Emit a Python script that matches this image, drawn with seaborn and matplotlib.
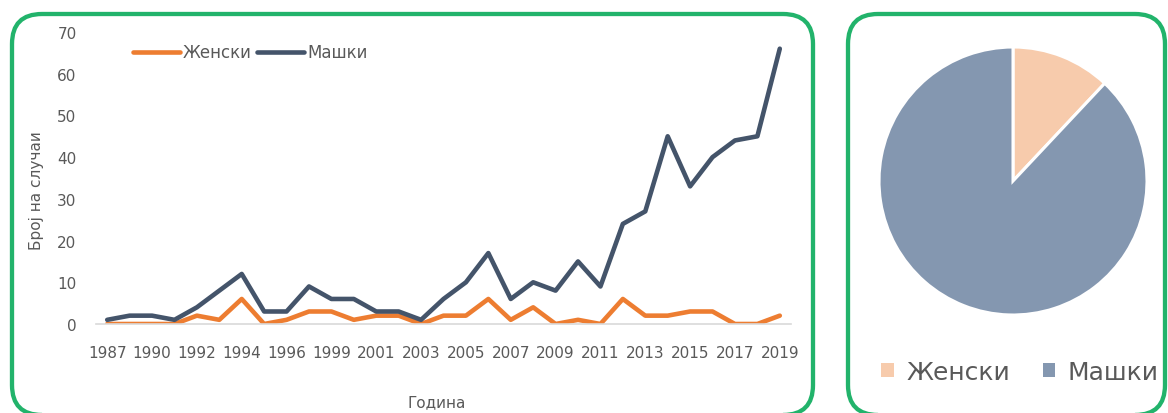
import matplotlib
matplotlib.use("Agg")
import matplotlib.pyplot as plt
import seaborn as sns
import pandas as pd
from matplotlib.patches import FancyBboxPatch, Patch

# ---- data ----
years = ["1987", "1988", "1990", "1991", "1992", "1993", "1994", "1995", "1996", "1997",
         "1999", "2000", "2001", "2002", "2003", "2004", "2005", "2006", "2007", "2008",
         "2009", "2010", "2011", "2012", "2013", "2014", "2015", "2016", "2017", "2018", "2019"]
female = [0, 0, 0, 0, 2, 1, 6, 0, 1, 3, 3, 1, 2, 2, 0, 2, 2, 6, 1, 4, 0, 1, 0, 6, 2, 2, 3, 3, 0, 0, 2]
male = [1, 2, 2, 1, 4, 8, 12, 3, 3, 9, 6, 6, 3, 3, 1, 6, 10, 17, 6, 10, 8, 15, 9, 24, 27, 45, 33, 40, 44, 45, 66]
series_names = ["Женски", "Машки"]
pie_shares = [12, 88]
y_ticks = [0, 10, 20, 30, 40, 50, 60, 70]

line_colors = ["#ED7D31", "#44546A"]
pie_colors = ["#F7CBAC", "#8497B0"]
text_color = "#595959"
green = "#22B36B"

sns.set_theme(style="white")
plt.rcParams["font.family"] = ["DejaVu Sans"]

W, H = 1168, 414
fig = plt.figure(figsize=(W / 100, H / 100), dpi=100)
fig.patch.set_facecolor("white")

# ---- line chart ----
ax = fig.add_axes([96 / W, (H - 325) / H, 695 / W, 292 / H])
idx = list(range(len(years)))
df = pd.DataFrame({
    "idx": idx * 2,
    "value": female + male,
    "sex": [series_names[0]] * len(years) + [series_names[1]] * len(years),
})
sns.lineplot(data=df, x="idx", y="value", hue="sex", hue_order=series_names,
             palette=line_colors, linewidth=3.3, ax=ax, legend=True)
ax.set_xlim(-0.5, len(years) - 0.5)
ax.set_ylim(0, 70)
ax.set_yticks(y_ticks)
ax.set_xticks(idx[::2])
ax.set_xticklabels(years[::2])
ax.tick_params(axis="both", length=0, labelsize=11, colors=text_color)
ax.tick_params(axis="y", pad=14)
ax.tick_params(axis="x", pad=15)
for s in ["top", "right", "left"]:
    ax.spines[s].set_visible(False)
ax.spines["bottom"].set_color("#D9D9D9")
ax.spines["bottom"].set_linewidth(1.2)
ax.set_facecolor("white")
ax.set_xlabel("Година", fontsize=11, color=text_color)
ax.set_ylabel("Број на случаи", fontsize=11, color=text_color)
ax.xaxis.set_label_coords(0.49, -0.24)
ax.yaxis.set_label_coords(-0.075, 0.46)
handles, labels = ax.get_legend_handles_labels()
ax.legend(handles, labels, loc="center", bbox_to_anchor=(0.222, 0.93), ncol=2,
          frameon=False, fontsize=12, labelcolor=text_color, handlelength=2.8,
          handletextpad=0.2, columnspacing=0.3)

# ---- pie chart ----
pax = fig.add_axes([(1013 - 134) / W, (H - 182 - 134) / H, 268 / W, 268 / H])
pax.pie(pie_shares, colors=pie_colors, startangle=90, counterclock=False,
        wedgeprops=dict(edgecolor="white", linewidth=2.2))
pax.set_aspect("equal")
pax.set_xlim(-1.0, 1.0)
pax.set_ylim(-1.0, 1.0)
pie_handles = [Patch(facecolor=c, edgecolor="none") for c in pie_colors]
fig.legend(pie_handles, series_names, loc="center", bbox_to_anchor=(1020 / W, (H - 373) / H),
           ncol=2, frameon=False, fontsize=18, labelcolor=text_color,
           handlelength=0.5, handleheight=0.5, handletextpad=0.5, columnspacing=1.3)

# ---- rounded green panels ----
for (x0, y0, w, h) in [(0.12, -0.02, 8.01, 4.01), (8.48, -0.02, 3.17, 4.01)]:
    p = FancyBboxPatch((x0, y0), w, h, boxstyle="round,pad=0,rounding_size=0.3",
                       transform=fig.dpi_scale_trans, fill=False, edgecolor=green,
                       linewidth=3.1, zorder=10)
    fig.add_artist(p)

fig.savefig("out.png", dpi=100, facecolor="white")
